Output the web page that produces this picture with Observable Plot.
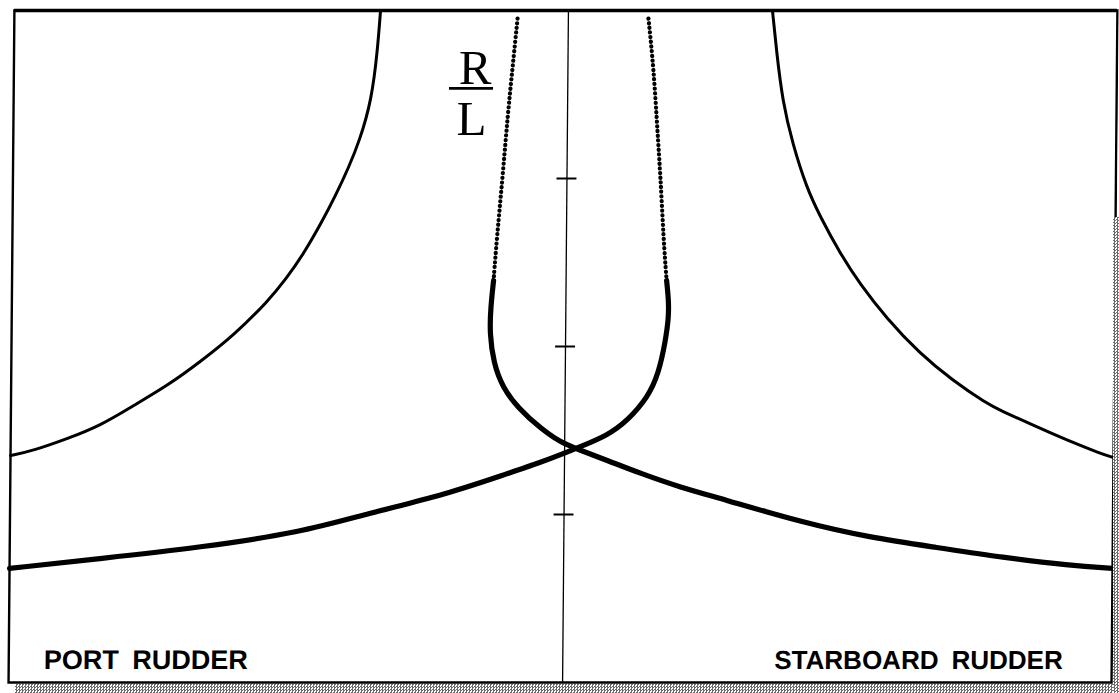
<!DOCTYPE html>
<html>
<head>
<meta charset="utf-8">
<script src="https://cdn.jsdelivr.net/npm/d3@7"></script>
<script src="https://cdn.jsdelivr.net/npm/@observablehq/plot@0.6"></script>
<style>
  html, body { margin: 0; padding: 0; background: #fff; overflow: hidden; }
  #wrap { position: relative; width: 1119px; height: 693px; overflow: hidden; background: #fff; }
  #wrap svg { display: block; transform: skewX(-0.5deg); transform-origin: 0 0; }
  .band { position: absolute; background: repeating-conic-gradient(#6a6a6a 0 25%, #ffffff 0 50%) 0 0 / 3px 3px; }
</style>
</head>
<body>
<div id="wrap"></div>
<script>
// Rudder angle (x, port negative / starboard positive) vs R/L (y)

// Outer (thin) curves
const outerPortX = [-11.87, -12.04, -12.39, -13.12, -13.80, -14.61, -15.48, -16.66, -17.72, -18.78, -20.91, -23.04, -25.11, -27.25, -29.32, -31.40, -33.54, -35.00];
const outerPortY = [4.000, 3.762, 3.464, 3.226, 3.065, 2.899, 2.738, 2.542, 2.399, 2.274, 2.071, 1.911, 1.768, 1.649, 1.530, 1.452, 1.381, 1.351];

const outerStbdX = [12.89, 13.17, 13.58, 14.23, 15.14, 15.98, 17.26, 18.54, 20.27, 22.38, 24.47, 26.63, 27.52, 29.61, 31.78, 33.87, 34.68];
const outerStbdY = [4.000, 3.756, 3.458, 3.208, 2.946, 2.780, 2.560, 2.375, 2.167, 1.958, 1.798, 1.661, 1.619, 1.530, 1.440, 1.363, 1.339];

// Inner curve A (left branch of the U, continuing to starboard side)
const curveADottedX = [-3.21, -3.50, -3.79, -4.07, -4.41, -4.58];
const curveADottedY = [3.952, 3.661, 3.363, 3.006, 2.631, 2.393];
const curveASolidX = [-4.58, -4.75, -4.80, -4.53, -3.95, -2.99, -1.53, -0.25, 0.70, 2.73, 4.82, 7.35, 9.89, 15.08, 19.32, 23.56, 27.73, 31.97, 34.68];
const curveASolidY = [2.393, 2.232, 2.077, 1.899, 1.756, 1.637, 1.512, 1.429, 1.393, 1.321, 1.244, 1.161, 1.095, 0.952, 0.863, 0.804, 0.744, 0.696, 0.679];

// Inner curve B (right branch of the U, continuing to port side)
const curveBDottedX = [5.06, 5.41, 5.70, 5.91, 6.14, 6.35];
const curveBDottedY = [3.952, 3.661, 3.268, 3.006, 2.631, 2.393];
const curveBSolidX = [6.35, 6.49, 6.50, 6.32, 5.90, 5.22, 3.97, 2.71, 0.70, -0.06, -1.51, -3.58, -7.49, -12.41, -16.63, -22.94, -29.25, -35.00];
const curveBSolidY = [2.393, 2.274, 2.173, 2.036, 1.839, 1.696, 1.560, 1.470, 1.393, 1.363, 1.310, 1.244, 1.119, 1.006, 0.893, 0.804, 0.738, 0.679];

// Axis ticks on the centre line (R/L)
const tickValues = [1, 2, 3];

// Labels
const fracTop = "R";
const fracBottom = "L";
const portLabel = "PORT\u2002RUDDER";
const stbdLabel = "STARBOARD\u2002RUDDER";

const pts = (xs, ys) => xs.map((x, i) => ({x, y: ys[i]}));

const ink = "#000";

const chart = Plot.plot({
  width: 1119,
  height: 693,
  marginLeft: 14,
  marginRight: 2,
  marginTop: 10,
  marginBottom: 11,
  style: {background: "#fff"},
  x: {domain: [-35, 34.68], axis: null},
  y: {domain: [0, 4], axis: null},
  marks: [
    Plot.frame({stroke: ink, strokeWidth: 2.4}),
    Plot.ruleY([4], {stroke: ink, strokeWidth: 3.4}),
    Plot.ruleX([0], {y1: 0, y2: 4, stroke: ink, strokeWidth: 1.3}),
    Plot.ruleY(tickValues, {x1: -0.63, x2: 0.63, stroke: ink, strokeWidth: 1.8}),
    Plot.line(pts(outerPortX, outerPortY), {x: "x", y: "y", curve: "basis", stroke: ink, strokeWidth: 3}),
    Plot.line(pts(outerStbdX, outerStbdY), {x: "x", y: "y", curve: "basis", stroke: ink, strokeWidth: 3}),
    Plot.line(pts(curveADottedX, curveADottedY), {x: "x", y: "y", curve: "basis", stroke: ink, strokeWidth: 4.2, strokeDasharray: "0.1 4.6", strokeLinecap: "round"}),
    Plot.line(pts(curveBDottedX, curveBDottedY), {x: "x", y: "y", curve: "basis", stroke: ink, strokeWidth: 4.2, strokeDasharray: "0.1 4.6", strokeLinecap: "round"}),
    Plot.line(pts(curveASolidX, curveASolidY), {x: "x", y: "y", curve: "basis", stroke: ink, strokeWidth: 5.2}),
    Plot.line(pts(curveBSolidX, curveBSolidY), {x: "x", y: "y", curve: "basis", stroke: ink, strokeWidth: 5.2}),
    Plot.text([fracTop], {x: -5.85, y: 3.565, lineAnchor: "bottom", fontFamily: "Liberation Serif, Times New Roman, serif", fontSize: 49, fill: ink}),
    Plot.ruleY([3.536], {x1: -7.47, x2: -4.69, stroke: ink, strokeWidth: 2.8}),
    Plot.text([fracBottom], {x: -6.05, y: 3.256, lineAnchor: "bottom", fontFamily: "Liberation Serif, Times New Roman, serif", fontSize: 49, fill: ink}),
    Plot.text([portLabel], {frameAnchor: "bottom-left", textAnchor: "start", lineAnchor: "bottom", dx: 35, dy: -14, fontFamily: "Liberation Sans, Arial, sans-serif", fontWeight: "bold", fontSize: 27, fill: ink}),
    Plot.text([stbdLabel], {frameAnchor: "bottom-right", textAnchor: "end", lineAnchor: "bottom", dx: -49, dy: -14, fontFamily: "Liberation Sans, Arial, sans-serif", fontWeight: "bold", fontSize: 26, fill: ink})
  ]
});

const wrap = document.getElementById("wrap");
wrap.appendChild(chart);

// scan edge shading below and to the right of the frame
const bottomBand = document.createElement("div");
bottomBand.className = "band";
Object.assign(bottomBand.style, {left: "15px", top: "684px", width: "1104px", height: "9px"});
const rightBand = document.createElement("div");
rightBand.className = "band";
Object.assign(rightBand.style, {left: "1113px", top: "217px", width: "6px", height: "476px"});
wrap.appendChild(bottomBand);
wrap.appendChild(rightBand);
</script>
</body>
</html>
